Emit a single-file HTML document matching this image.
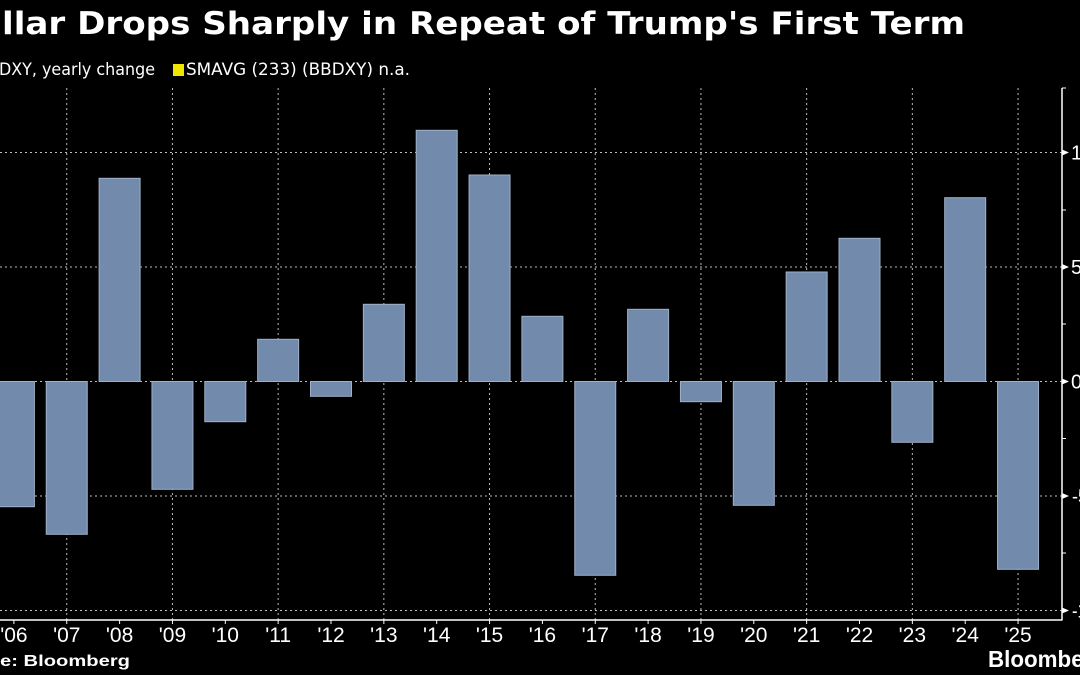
<!DOCTYPE html>
<html>
<head>
<meta charset="utf-8">
<style>
html,body{margin:0;padding:0;background:#000;}
body{width:1080px;height:675px;overflow:hidden;}
svg{display:block;}
text{font-family:"Liberation Sans",sans-serif;fill:#fff;}
.dv{font-family:"DejaVu Sans","Liberation Sans",sans-serif;}
</style>
</head>
<body>
<svg width="1080" height="675" viewBox="0 0 1080 675" xmlns="http://www.w3.org/2000/svg">
<rect x="0" y="0" width="1080" height="675" fill="#000"/>

<!-- Title -->
<text class="dv" x="2" y="34" font-size="31" font-weight="bold" textLength="963" lengthAdjust="spacingAndGlyphs">llar Drops Sharply in Repeat of Trump's First Term</text>

<!-- Legend / subtitle -->
<text class="dv" x="-1" y="75" font-size="17" textLength="156" lengthAdjust="spacingAndGlyphs">DXY, yearly change</text>
<rect x="173" y="64" width="11" height="12" fill="#f2e600"/>
<text class="dv" x="186" y="75" font-size="17" textLength="224" lengthAdjust="spacingAndGlyphs">SMAVG (233) (BBDXY) n.a.</text>

<!-- Horizontal gridlines -->
<g stroke="#bdbdbd" stroke-width="1" stroke-dasharray="2,3">
<line x1="0" y1="152.5" x2="1062" y2="152.5"/>
<line x1="0" y1="267" x2="1062" y2="267"/>
<line x1="0" y1="381.5" x2="1062" y2="381.5"/>
<line x1="0" y1="496" x2="1062" y2="496"/>
<line x1="0" y1="610.5" x2="1062" y2="610.5"/>
</g>
<!-- Vertical gridlines -->
<g stroke="#bdbdbd" stroke-width="1" stroke-dasharray="2,3">
<line x1="66.75" y1="88" x2="66.75" y2="620"/>
<line x1="172.45" y1="88" x2="172.45" y2="620"/>
<line x1="278.15" y1="88" x2="278.15" y2="620"/>
<line x1="383.85" y1="88" x2="383.85" y2="620"/>
<line x1="489.55" y1="88" x2="489.55" y2="620"/>
<line x1="595.25" y1="88" x2="595.25" y2="620"/>
<line x1="700.95" y1="88" x2="700.95" y2="620"/>
<line x1="806.65" y1="88" x2="806.65" y2="620"/>
<line x1="912.35" y1="88" x2="912.35" y2="620"/>
<line x1="1018.05" y1="88" x2="1018.05" y2="620"/>
</g>

<!-- Bars -->
<g fill="#728aac" stroke="#9fb0c8" stroke-width="1">
<rect x="-6.6" y="381.5" width="41" height="125.2"/>
<rect x="46.25" y="381.5" width="41" height="152.8"/>
<rect x="99.1" y="178.3" width="41" height="203.2"/>
<rect x="151.95" y="381.5" width="41" height="107.8"/>
<rect x="204.8" y="381.5" width="41" height="40.2"/>
<rect x="257.65" y="339.3" width="41" height="42.2"/>
<rect x="310.5" y="381.5" width="41" height="14.8"/>
<rect x="363.35" y="304.3" width="41" height="77.2"/>
<rect x="416.2" y="130.3" width="41" height="251.2"/>
<rect x="469.05" y="175" width="41" height="206.5"/>
<rect x="521.9" y="316.3" width="41" height="65.2"/>
<rect x="574.75" y="381.5" width="41" height="193.8"/>
<rect x="627.6" y="309.3" width="41" height="72.2"/>
<rect x="680.45" y="381.5" width="41" height="20.2"/>
<rect x="733.3" y="381.5" width="41" height="123.8"/>
<rect x="786.15" y="272" width="41" height="109.5"/>
<rect x="839.0" y="238.3" width="41" height="143.2"/>
<rect x="891.85" y="381.5" width="41" height="60.8"/>
<rect x="944.7" y="197.7" width="41" height="183.8"/>
<rect x="997.55" y="381.5" width="41" height="187.8"/>
</g>

<!-- Axes -->
<g stroke="#fff" stroke-width="1.5">
<line x1="0" y1="620" x2="1062.5" y2="620"/>
<line x1="1062" y1="88" x2="1062" y2="620"/>
</g>
<!-- bottom ticks -->
<g stroke="#fff" stroke-width="1">
<line x1="13.9" y1="620" x2="13.9" y2="624"/>
<line x1="66.75" y1="620" x2="66.75" y2="624"/>
<line x1="119.6" y1="620" x2="119.6" y2="624"/>
<line x1="172.45" y1="620" x2="172.45" y2="624"/>
<line x1="225.3" y1="620" x2="225.3" y2="624"/>
<line x1="278.15" y1="620" x2="278.15" y2="624"/>
<line x1="331.0" y1="620" x2="331.0" y2="624"/>
<line x1="383.85" y1="620" x2="383.85" y2="624"/>
<line x1="436.7" y1="620" x2="436.7" y2="624"/>
<line x1="489.55" y1="620" x2="489.55" y2="624"/>
<line x1="542.4" y1="620" x2="542.4" y2="624"/>
<line x1="595.25" y1="620" x2="595.25" y2="624"/>
<line x1="648.1" y1="620" x2="648.1" y2="624"/>
<line x1="700.95" y1="620" x2="700.95" y2="624"/>
<line x1="753.8" y1="620" x2="753.8" y2="624"/>
<line x1="806.65" y1="620" x2="806.65" y2="624"/>
<line x1="859.5" y1="620" x2="859.5" y2="624"/>
<line x1="912.35" y1="620" x2="912.35" y2="624"/>
<line x1="965.2" y1="620" x2="965.2" y2="624"/>
<line x1="1018.05" y1="620" x2="1018.05" y2="624"/>
</g>
<!-- right minor ticks -->
<g stroke="#fff" stroke-width="1">
<line x1="1062" y1="88" x2="1066" y2="88"/>
<line x1="1062" y1="210" x2="1066" y2="210"/>
<line x1="1062" y1="324" x2="1066" y2="324"/>
<line x1="1062" y1="438.5" x2="1066" y2="438.5"/>
<line x1="1062" y1="553" x2="1066" y2="553"/>
</g>
<!-- right major tick triangles -->
<g fill="#fff">
<polygon points="1062,149.5 1069,152.5 1062,155.5"/>
<polygon points="1062,264 1069,267 1062,270"/>
<polygon points="1062,378.5 1069,381.5 1062,384.5"/>
<polygon points="1062,493 1069,496 1062,499"/>
<polygon points="1062,607.5 1069,610.5 1062,613.5"/>
</g>
<!-- right labels -->
<g font-size="20">
<text x="1071" y="159.5">10</text>
<text x="1071" y="274">5</text>
<text x="1071" y="388.5">0</text>
<text x="1072" y="503" textLength="16" lengthAdjust="spacingAndGlyphs">-5</text>
<text x="1072" y="617.5" textLength="24" lengthAdjust="spacingAndGlyphs">-10</text>
</g>

<!-- x labels -->
<g font-size="21" text-anchor="middle">
<text x="13.9" y="642">'06</text>
<text x="66.75" y="642">'07</text>
<text x="119.6" y="642">'08</text>
<text x="172.45" y="642">'09</text>
<text x="225.3" y="642">'10</text>
<text x="278.15" y="642">'11</text>
<text x="331.0" y="642">'12</text>
<text x="383.85" y="642">'13</text>
<text x="436.7" y="642">'14</text>
<text x="489.55" y="642">'15</text>
<text x="542.4" y="642">'16</text>
<text x="595.25" y="642">'17</text>
<text x="648.1" y="642">'18</text>
<text x="700.95" y="642">'19</text>
<text x="753.8" y="642">'20</text>
<text x="806.65" y="642">'21</text>
<text x="859.5" y="642">'22</text>
<text x="912.35" y="642">'23</text>
<text x="965.2" y="642">'24</text>
<text x="1018.05" y="642">'25</text>
</g>

<!-- Source -->
<text x="0" y="666" font-size="16" font-weight="bold" textLength="130" lengthAdjust="spacingAndGlyphs">e: Bloomberg</text>
<!-- Logo -->
<text x="988" y="667" font-size="23" font-weight="bold" textLength="118" lengthAdjust="spacingAndGlyphs">Bloomberg</text>
</svg>
</body>
</html>
